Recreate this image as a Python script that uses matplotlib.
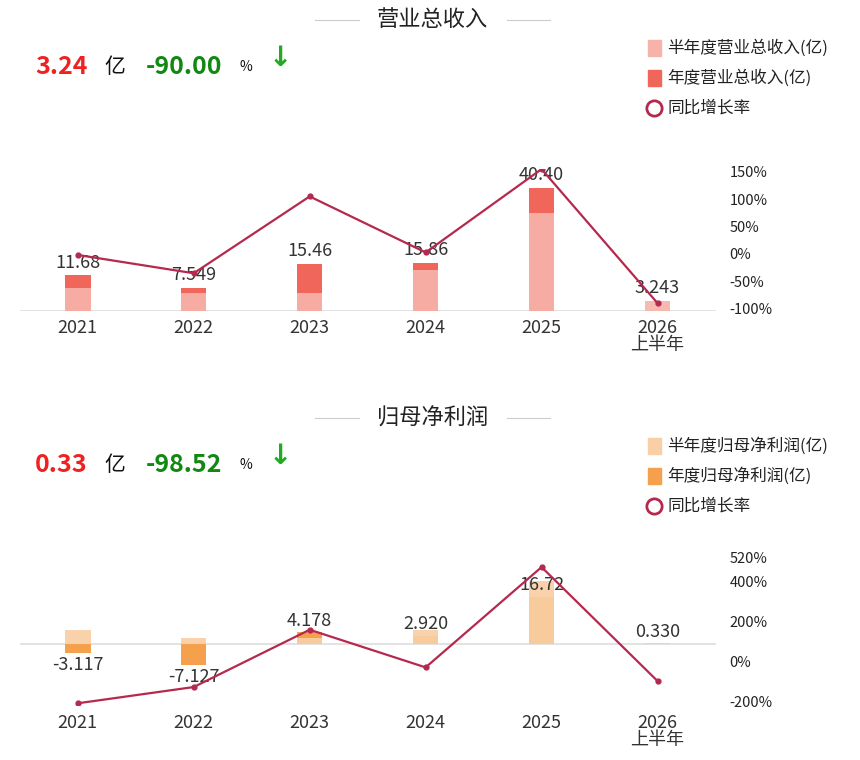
import numpy as np
import matplotlib.pyplot as plt

plt.rcParams['font.family'] = ['Noto Sans CJK SC', 'DejaVu Sans']

years = ['2021', '2022', '2023', '2024', '2025', '2026\n上半年']

# 营业总收入
rev_half = [7.6, 6.0, 6.0, 13.5, 32.2, 3.243]
rev_year = [11.68, 7.549, 15.46, 15.86, 40.40, None]
rev_growth = [-2, -35.4, 104.8, 2.6, 154.7, -90.0]
rev_labels = ['11.68', '7.549', '15.46', '15.86', '40.40', '3.243']

# 归母净利润
np_half = [4.9, 2.1, 2.1, 4.9, 22.3, 0.330]
np_year = [-3.117, -7.127, 4.178, 2.920, 16.72, None]
np_growth = [-210, -128.6, 158.6, -30.1, 472.6, -98.52]
np_labels = ['-3.117', '-7.127', '4.178', '2.920', '16.72', '0.330']

fig = plt.figure(figsize=(8.6, 7.6), dpi=100)

def panel(rect, half, year, growth, labels, c_half, c_year, ylim, ylim2, ticks2, ticklabels2, off):
    ax = fig.add_axes(rect)
    x = np.arange(len(years))
    yv = [v if v is not None else 0 for v in year]
    ax.bar(x, yv, width=0.22, color=c_year, zorder=2)
    ax.bar(x, half, width=0.22, color=c_half, alpha=0.92, zorder=3)
    ax.axhline(0, color='#dddddd', lw=1.2, zorder=1)
    for i, lab in enumerate(labels):
        v = year[i] if year[i] is not None else half[i]
        if v >= 0:
            ax.text(i, v + off, lab, ha='center', va='bottom', fontsize=13, color='#333333', zorder=5)
        else:
            ax.text(i, v - off, lab, ha='center', va='top', fontsize=13, color='#333333', zorder=5)
    ax.set_xlim(-0.5, 5.5)
    ax.set_ylim(*ylim)
    ax.set_xticks(x)
    ax.set_xticklabels(years, fontsize=13, color='#333333', linespacing=0.95)
    ax.tick_params(axis='x', length=0, pad=6)
    ax.set_yticks([])
    for s in ax.spines.values():
        s.set_visible(False)
    ax2 = ax.twinx()
    ax2.plot(x, growth, color='#b5294e', lw=1.6, marker='o', ms=3.5, zorder=6)
    ax2.set_ylim(*ylim2)
    ax2.set_yticks(ticks2)
    ax2.set_yticklabels(ticklabels2, fontsize=10.5, color='#222222')
    ax2.tick_params(axis='y', length=0, pad=10)
    for s in ax2.spines.values():
        s.set_visible(False)
    return ax

panel([0.023, 0.591, 0.809, 0.186], rev_half, rev_year, rev_growth, rev_labels,
      '#f7b3aa', '#f0665a', (0, 46.4), (-104, 154),
      [-100, -50, 0, 50, 100, 150], ['-100%', '-50%', '0%', '50%', '100%', '150%'], 1.2)
panel([0.023, 0.072, 0.809, 0.21], np_half, np_year, np_growth, np_labels,
      '#f9cfa5', '#f4a04c', (-21.3, 34.5), (-220, 580),
      [-200, 0, 200, 400, 520], ['-200%', '0%', '200%', '400%', '520%'], 1.0)

def header(ytop, title, val, pct, names):
    yt = 1 - ytop / 760
    fig.text(0.503, yt, title, ha='center', va='center', fontsize=16, color='#222222')
    fig.add_artist(plt.Line2D([0.366, 0.418], [yt, yt], color='#cccccc', lw=0.8))
    fig.add_artist(plt.Line2D([0.589, 0.64], [yt, yt], color='#cccccc', lw=0.8))
    yv = 1 - (ytop + 47) / 760
    fig.text(0.041, yv, val, ha='left', va='center', fontsize=18, fontweight='bold', color='#ee2222')
    fig.text(0.122, yv, '亿', ha='left', va='center', fontsize=15, color='#111111')
    fig.text(0.169, yv, pct, ha='left', va='center', fontsize=18, fontweight='bold', color='#118811')
    fig.text(0.278, yv, '%', ha='left', va='center', fontsize=10, color='#111111')
    fig.text(0.312, yv + 0.012, '↓', ha='left', va='center', fontsize=20, fontweight='bold', color='#22aa22',
             family=['DejaVu Sans'])
    for k, (nm, c) in enumerate(names):
        yy = 1 - (ytop + 28 + 30 * k) / 760
        if c is None:
            fig.add_artist(plt.Line2D([0.7605], [yy], marker='o', ms=11, mfc='white', mec='#b5294e', mew=2, lw=0))
        else:
            fig.patches.append(plt.Rectangle((0.753, yy - 0.0105), 0.016, 0.021, color=c, transform=fig.transFigure))
        fig.text(0.776, yy, nm, ha='left', va='center', fontsize=12, color='#222222')

header(20, '营业总收入', '3.24', '-90.00',
       [('半年度营业总收入(亿)', '#f7b3aa'), ('年度营业总收入(亿)', '#f0665a'), ('同比增长率', None)])
header(418, '归母净利润', '0.33', '-98.52',
       [('半年度归母净利润(亿)', '#f9cfa5'), ('年度归母净利润(亿)', '#f4a04c'), ('同比增长率', None)])

fig.savefig('out.png', dpi=100, facecolor='white')
